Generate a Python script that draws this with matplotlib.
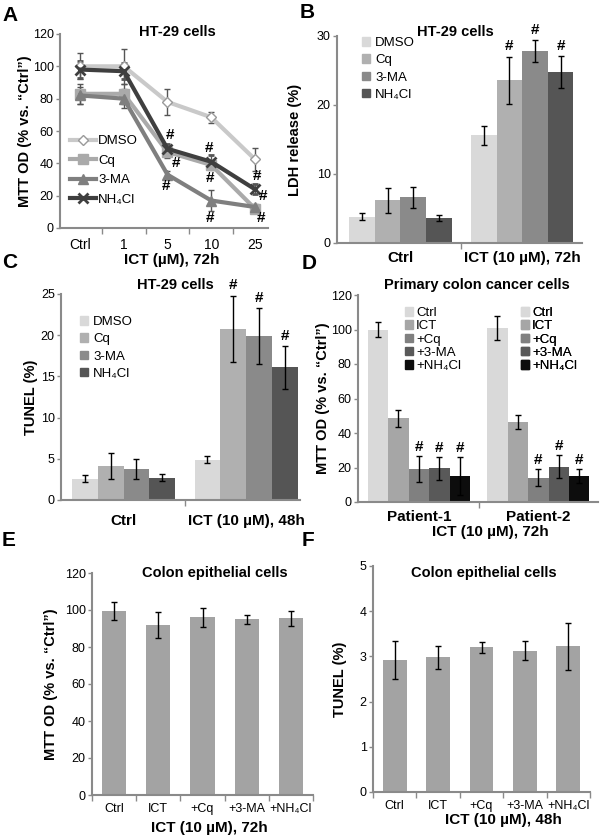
import matplotlib
matplotlib.use("Agg")
import matplotlib.pyplot as plt
from matplotlib.lines import Line2D
from matplotlib.patches import Patch
import numpy as np

plt.rcParams["font.family"] = ["Liberation Sans", "DejaVu Sans"]

W, H = 600, 835
SPINE = "#8a8a8a"

# ---- panel A: MTT, HT-29, dose response
a_doses = ["Ctrl", "1", "5", "10", "25"]
a_names = ["DMSO", "Cq", "3-MA", "NH₄Cl"]
a_dmso = [100, 100, 78, 68.5, 42.5]
a_dmso_err = [8, 11, 8, 3.5, 7]
a_cq = [83, 83, 47, 39, 12]
a_cq_err = [6, 6, 4, 3, 2]
a_3ma = [82, 80, 33, 17, 13]
a_3ma_err = [5, 6, 2, 6.5, 2]
a_nh4 = [98, 97, 49, 41, 24]
a_nh4_err = [5, 5, 3, 4, 3]

# ---- panel B: LDH release
b_groups = ["Ctrl", "ICT (10 µM), 72h"]
b_names = ["DMSO", "Cq", "3-MA", "NH₄Cl"]
b_dmso = [3.8, 15.6]
b_dmso_err = [0.5, 1.4]
b_cq = [6.2, 23.6]
b_cq_err = [1.8, 3.4]
b_3ma = [6.6, 27.8]
b_3ma_err = [1.5, 1.6]
b_nh4 = [3.6, 24.8]
b_nh4_err = [0.4, 2.3]

# ---- panel C: TUNEL
c_groups = ["Ctrl", "ICT (10 µM), 48h"]
c_dmso = [2.6, 4.9]
c_dmso_err = [0.4, 0.4]
c_cq = [4.1, 20.8]
c_cq_err = [1.6, 4.0]
c_3ma = [3.8, 19.9]
c_3ma_err = [1.2, 3.4]
c_nh4 = [2.7, 16.1]
c_nh4_err = [0.4, 2.6]

# ---- panel D: primary colon cancer cells
d_groups = ["Patient-1", "Patient-2"]
d_names = ["Ctrl", "ICT", "+Cq", "+3-MA", "+NH₄Cl"]
d_ctrl = [100, 101]
d_ctrl_err = [4.5, 7]
d_ict = [48.5, 46.5]
d_ict_err = [5, 4]
d_cq = [19, 14]
d_cq_err = [7.5, 5]
d_3ma = [19.5, 20.5]
d_3ma_err = [6.5, 6.5]
d_nh4 = [15, 15]
d_nh4_err = [11, 4]

# ---- panels E/F: colon epithelial cells
ef_cats = ["Ctrl", "ICT", "+Cq", "+3-MA", "+NH₄Cl"]
e_mtt = [99.5, 92, 96, 95, 95.5]
e_mtt_err = [5, 7, 5, 2.5, 4]
f_tunel = [2.92, 2.98, 3.2, 3.12, 3.22]
f_tunel_err = [0.42, 0.25, 0.12, 0.21, 0.52]

fig = plt.figure(figsize=(6, 8.35), dpi=100)


def add_axes(l, t, r, b):
    ax = fig.add_axes([l / W, 1 - b / H, (r - l) / W, (b - t) / H])
    for s in ("top", "right"):
        ax.spines[s].set_visible(False)
    for s in ("left", "bottom"):
        ax.spines[s].set_color(SPINE)
        ax.spines[s].set_linewidth(1.5)
    ax.tick_params(axis="y", direction="out", length=3, width=1, color=SPINE,
                   labelsize=9, pad=1.5)
    ax.tick_params(axis="x", which="major", length=0, labelsize=9.5)
    ax.tick_params(axis="x", which="minor", direction="out", length=4,
                   width=1, color=SPINE)
    return ax


def ftext(x, y, s, **kw):
    fig.text(x / W, 1 - y / H, s, **kw)


def grouped(ax, means, errs, colors, width):
    x = np.arange(len(means[0]))
    n = len(means)
    out = []
    for i in range(n):
        pos = x + (i - (n - 1) / 2) * width
        ax.bar(pos, means[i], width, color=colors[i], yerr=errs[i],
               error_kw=dict(ecolor="black", elinewidth=1, capsize=2.5,
                             capthick=1))
        out.append(pos)
    return out


def hashes(ax, pos, means, errs, which, pad):
    for i, j in which:
        ax.text(pos[i][j], means[i][j] + errs[i][j] + pad, "#",
                ha="center", va="bottom", fontsize=11, fontweight="bold")


title = dict(fontweight="bold", fontsize=10.5)
label = dict(fontweight="bold", fontsize=11)
ylab = dict(fontweight="bold", fontsize=10.5, rotation=90,
            ha="center", va="center")

# ================= A
ax = add_axes(60, 34, 268, 228)
xa = np.arange(len(a_doses))
styles = [
    dict(color="#c9c9c9", marker="D", ms=5.5, mfc="white", mec="#9a9a9a", mew=1),
    dict(color="#aaaaaa", marker="s", ms=6.5, mfc="#aaaaaa", mec="#aaaaaa"),
    dict(color="#7f7f7f", marker="^", ms=7.5, mfc="#7f7f7f", mec="#7f7f7f"),
    dict(color="#3f3f3f", marker="x", ms=7, mec="#3f3f3f", mew=2),
]
series = [(a_dmso, a_dmso_err), (a_cq, a_cq_err), (a_3ma, a_3ma_err),
          (a_nh4, a_nh4_err)]
handles = []
for (v, e), st, name in zip(series, styles, a_names):
    ax.errorbar(xa, v, yerr=e, lw=3, ecolor="#555555", elinewidth=1,
                capsize=2.5, capthick=1, **st)
    handles.append(Line2D([], [], lw=3, label=name, **st))
ax.set_xlim(-0.46, 4.3)
ax.set_ylim(0, 120)
ax.set_yticks(range(0, 121, 20))
ax.set_xticks(xa)
ax.set_xticklabels(a_doses, fontsize=10)
ax.set_xticks([0.5, 1.5, 2.5, 3.5], minor=True)
ax.tick_params(axis="x", which="major", pad=7)
ax.legend(handles=handles, loc="upper left", bbox_to_anchor=(70 / W, 1 - 135 / H),
          bbox_transform=fig.transFigure, frameon=False, fontsize=9.5,
          handlelength=2.0, handletextpad=0.15, labelspacing=0.55,
          borderpad=0, borderaxespad=0)
for x, y in [(2.06, 57.7), (2.2, 40), (1.96, 25.8), (2.96, 49.5), (2.97, 31),
             (2.97, 6), (4.05, 32), (4.19, 19.6), (4.15, 6)]:
    ax.text(x, y, "#", ha="center", va="center", fontsize=11, fontweight="bold")
ftext(177, 32, "HT-29 cells", ha="center", va="center", **title)
ftext(172, 260, "ICT (µM), 72h", ha="center", va="center", **label)
ftext(25, 131, "MTT OD (% vs. “Ctrl”)", **ylab)

# ================= B
grey4 = ["#d9d9d9", "#b0b0b0", "#8a8a8a", "#555555"]
ax = add_axes(337, 36, 582, 243)
bm = [b_dmso, b_cq, b_3ma, b_nh4]
be = [b_dmso_err, b_cq_err, b_3ma_err, b_nh4_err]
pos = grouped(ax, bm, be, grey4, 0.21)
ax.set_xlim(-0.52, 1.49)
ax.set_ylim(0, 30)
ax.set_yticks([0, 10, 20, 30])
ax.set_xticks([0, 1])
ax.set_xticklabels(b_groups, **label)
ax.set_xticks([0.5], minor=True)
ax.tick_params(axis="x", which="major", pad=6)
hashes(ax, pos, bm, be, [(1, 1), (2, 1), (3, 1)], 0.5)
ax.legend(handles=[Patch(color=c, label=n) for c, n in zip(grey4, b_names)],
          loc="upper left", bbox_to_anchor=(362 / W, 1 - 37 / H),
          bbox_transform=fig.transFigure, frameon=False, fontsize=9.5,
          handlelength=0.6, handleheight=0.6, handletextpad=0.4,
          labelspacing=0.4, borderpad=0, borderaxespad=0)
ftext(455, 32, "HT-29 cells", ha="center", va="center", **title)
ftext(295, 140, "LDH release (%)", **ylab)

# ================= C
ax = add_axes(61, 294, 300, 500)
cm = [c_dmso, c_cq, c_3ma, c_nh4]
ce = [c_dmso_err, c_cq_err, c_3ma_err, c_nh4_err]
pos = grouped(ax, cm, ce, grey4, 0.21)
ax.set_xlim(-0.51, 1.44)
ax.set_ylim(0, 25)
ax.set_yticks(range(0, 26, 5))
ax.set_xticks([0, 1])
ax.set_xticklabels(c_groups, **label)
ax.set_xticks([0.5], minor=True)
ax.tick_params(axis="x", which="major", pad=10)
hashes(ax, pos, cm, ce, [(1, 1), (2, 1), (3, 1)], 0.4)
ax.legend(handles=[Patch(color=c, label=n) for c, n in zip(grey4, b_names)],
          loc="upper left", bbox_to_anchor=(80 / W, 1 - 316 / H),
          bbox_transform=fig.transFigure, frameon=False, fontsize=9.5,
          handlelength=0.6, handleheight=0.6, handletextpad=0.4,
          labelspacing=0.4, borderpad=0, borderaxespad=0)
ftext(175, 285, "HT-29 cells", ha="center", va="center", **title)
ftext(31, 397, "TUNEL (%)", **ylab)

# ================= D
grey5 = ["#d9d9d9", "#a6a6a6", "#808080", "#595959", "#0d0d0d"]
ax = add_axes(358, 295, 598, 502)
dm = [d_ctrl, d_ict, d_cq, d_3ma, d_nh4]
de = [d_ctrl_err, d_ict_err, d_cq_err, d_3ma_err, d_nh4_err]
pos = grouped(ax, dm, de, grey5, 0.171)
ax.set_xlim(-0.51, 1.5)
ax.set_ylim(0, 120)
ax.set_yticks(range(0, 121, 20))
ax.set_xticks([0, 1])
ax.set_xticklabels(d_groups, **label)
ax.set_xticks([0.5], minor=True)
ax.tick_params(axis="x", which="major", pad=6)
hashes(ax, pos, dm, de, [(2, 0), (3, 0), (4, 0), (2, 1), (3, 1), (4, 1)], 1.5)
dh = [Patch(color=c, label=n) for c, n in zip(grey5, d_names)]
for lx in (405, 521):
    leg = ax.legend(handles=dh, loc="upper left",
                    bbox_to_anchor=(lx / W, 1 - 307 / H),
                    bbox_transform=fig.transFigure, frameon=False, fontsize=9.5,
                    handlelength=0.6, handleheight=0.6, handletextpad=0.25,
                    labelspacing=0.1, borderpad=0, borderaxespad=0)
    ax.add_artist(leg)
ftext(477, 285, "Primary colon cancer cells", ha="center", va="center", **title)
ftext(490, 532, "ICT (10 µM), 72h", ha="center", va="center", **label)
ftext(323, 398, "MTT OD (% vs. “Ctrl”)", **ylab)

# ================= E
xe = np.arange(len(ef_cats))
ax = add_axes(92, 573, 313, 795)
ax.bar(xe, e_mtt, 0.55, color="#a3a3a3", yerr=e_mtt_err,
       error_kw=dict(ecolor="black", elinewidth=1, capsize=2.5, capthick=1))
ax.set_xlim(-0.5, 4.5)
ax.set_ylim(0, 120)
ax.set_yticks(range(0, 121, 20))
ax.set_xticks(xe)
ax.set_xticklabels(ef_cats, fontsize=9)
ax.set_xticks(np.arange(-0.5, 4.6, 1), minor=True)
ax.tick_params(axis="x", which="major", pad=6)
ftext(215, 573, "Colon epithelial cells", ha="center", va="center", **title)
ftext(209, 828, "ICT (10 µM), 72h", ha="center", va="center", **label)
ftext(51, 684, "MTT OD (% vs. “Ctrl”)", **ylab)

# ================= F
ax = add_axes(373, 566, 590, 792)
ax.bar(xe, f_tunel, 0.55, color="#a3a3a3", yerr=f_tunel_err,
       error_kw=dict(ecolor="black", elinewidth=1, capsize=2.5, capthick=1))
ax.set_xlim(-0.5, 4.5)
ax.set_ylim(0, 5)
ax.set_yticks(range(0, 6))
ax.set_xticks(xe)
ax.set_xticklabels(ef_cats, fontsize=9)
ax.set_xticks(np.arange(-0.5, 4.6, 1), minor=True)
ax.tick_params(axis="x", which="major", pad=6)
ftext(484, 573, "Colon epithelial cells", ha="center", va="center", **title)
ftext(503, 820, "ICT (10 µM), 48h", ha="center", va="center", **label)
ftext(340, 679, "TUNEL (%)", **ylab)

# panel letters
for lx, ly, s in [(2, 6, "A"), (300, 3, "B"), (2, 253, "C"), (302, 254, "D"),
                  (2, 531, "E"), (302, 531, "F")]:
    ftext(lx, ly, s, ha="left", va="top", fontsize=15, fontweight="bold")

fig.savefig("out.png", dpi=100)
